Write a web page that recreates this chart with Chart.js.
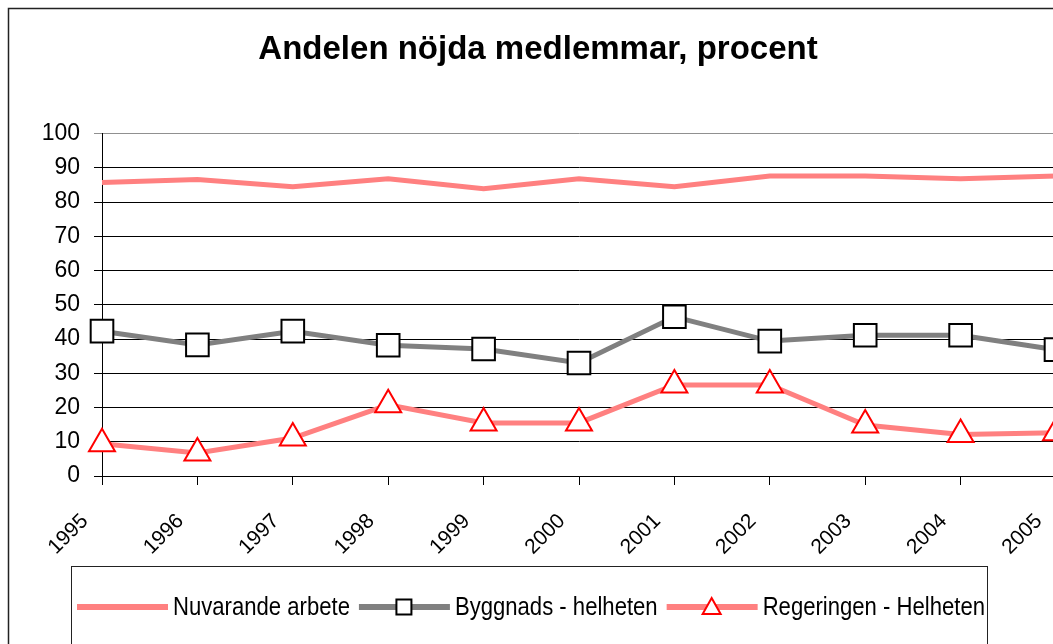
<!DOCTYPE html>
<html>
<head>
<meta charset="utf-8">
<script src="https://cdn.jsdelivr.net/npm/chart.js"></script>
<style>
  html, body { margin: 0; padding: 0; background: #fff; overflow: hidden; }
  #wrap { position: relative; width: 1053px; height: 644px; overflow: hidden; }
  #chart { position: absolute; left: 0; top: 0; }
</style>
</head>
<body>
<div id="wrap"><canvas id="chart" width="1098" height="700"></canvas></div>
<script>
// Andelen nöjda medlemmar, procent
const years = ['1995', '1996', '1997', '1998', '1999', '2000', '2001', '2002', '2003', '2004', '2005'];
const seriesNames = ['Nuvarande arbete', 'Byggnads - helheten', 'Regeringen - Helheten'];
const nuvarande = [85.7, 86.6, 84.5, 86.8, 83.9, 86.8, 84.5, 87.6, 87.6, 86.8, 87.6];
const byggnads = [42.3, 38.3, 42.3, 38.2, 37.1, 33.0, 46.5, 39.4, 41.1, 41.1, 36.9];
const regeringen = [9.4, 6.7, 11.1, 20.8, 15.5, 15.5, 26.6, 26.6, 14.9, 12.1, 12.6];
const yTicks = [0, 10, 20, 30, 40, 50, 60, 70, 80, 90, 100];

const FONT = "'Liberation Sans', Arial, sans-serif";

// ram runt hela diagrammet
const frame = {
  id: 'frame',
  beforeDraw(chart) {
    const ctx = chart.ctx;
    ctx.save();
    ctx.strokeStyle = '#222';
    ctx.lineWidth = 1.5;
    ctx.strokeRect(8.5, 8.5, chart.width + 20, chart.height + 20);
    ctx.restore();
  }
};

// förklaring med linje + markör, ritad som i originalet (smal text)
const legendBox = {
  id: 'legendBox',
  afterDraw(chart) {
    const ctx = chart.ctx;
    const top = chart.chartArea.bottom + 90;
    const squeeze = 0.85;
    ctx.save();
    ctx.strokeStyle = '#222';
    ctx.lineWidth = 1;
    ctx.strokeRect(71.5, top + 0.5, 916, 200);
    ctx.font = '26px ' + FONT;
    ctx.textBaseline = 'middle';
    const y = top + 41;
    let x = 77;
    chart.data.datasets.forEach(ds => {
      ctx.strokeStyle = ds.borderColor;
      ctx.lineWidth = 6;
      ctx.beginPath();
      ctx.moveTo(x, y);
      ctx.lineTo(x + 91, y);
      ctx.stroke();
      if (ds.pointRadius > 0) {
        const cx = x + 45;
        ctx.fillStyle = '#fff';
        ctx.strokeStyle = ds.pointBorderColor;
        ctx.lineWidth = 2;
        ctx.beginPath();
        if (ds.pointStyle === 'rect') {
          ctx.rect(cx - 7.5, y - 7.5, 15, 15);
        } else {
          ctx.moveTo(cx, y - 9);
          ctx.lineTo(cx + 9, y + 7);
          ctx.lineTo(cx - 9, y + 7);
          ctx.closePath();
        }
        ctx.fill();
        ctx.stroke();
      }
      ctx.fillStyle = '#000';
      const tx = x + 96;
      ctx.save();
      ctx.translate(tx, y);
      ctx.scale(squeeze, 1);
      ctx.fillText(ds.label, 0, 1);
      ctx.restore();
      x = tx + ctx.measureText(ds.label).width * squeeze + 9;
    });
    ctx.restore();
  }
};

new Chart(document.getElementById('chart'), {
  type: 'line',
  data: {
    labels: years,
    datasets: [
      {
        label: seriesNames[0],
        data: nuvarande,
        borderColor: '#FF8080',
        borderWidth: 5,
        pointRadius: 0,
        tension: 0,
        clip: false
      },
      {
        label: seriesNames[1],
        data: byggnads,
        borderColor: '#808080',
        borderWidth: 5,
        pointStyle: 'rect',
        pointRadius: 16,
        pointBorderWidth: 2,
        pointBorderColor: '#000',
        pointBackgroundColor: '#fff',
        tension: 0,
        clip: false
      },
      {
        label: seriesNames[2],
        data: regeringen,
        borderColor: '#FF8080',
        borderWidth: 5,
        pointStyle: 'triangle',
        pointRadius: 15,
        pointBorderWidth: 2,
        pointBorderColor: '#FF0000',
        pointBackgroundColor: '#fff',
        tension: 0,
        clip: false
      }
    ]
  },
  options: {
    responsive: false,
    animation: false,
    layout: { padding: { left: 20, right: 42, top: 0, bottom: 134 } },
    plugins: {
      legend: { display: false },
      tooltip: { enabled: false },
      title: {
        display: true,
        text: 'Andelen nöjda medlemmar, procent',
        color: '#000',
        font: { family: FONT, size: 33, weight: 'bold', lineHeight: 1.2 },
        padding: { top: 30, bottom: 64 }
      }
    },
    scales: {
      x: {
        offset: false,
        afterFit(scale) { scale.height = 90; },
        grid: { display: true, drawOnChartArea: false, drawTicks: true, tickLength: 9, color: '#000', lineWidth: 1 },
        border: { display: true, color: '#000', width: 1 },
        ticks: {
          autoSkip: false,
          minRotation: 45,
          maxRotation: 45,
          padding: 24,
          labelOffset: -17,
          color: '#000',
          font: { family: FONT, size: 21 }
        }
      },
      y: {
        min: 0,
        max: 100,
        afterFit(scale) { scale.width = 82; },
        afterBuildTicks(scale) { scale.ticks = yTicks.map(v => ({ value: v })); },
        grid: {
          color: c => (c.tick && c.tick.value === 100 ? '#909090' : '#000'),
          lineWidth: 1,
          tickLength: 8
        },
        border: { display: true, color: '#000', width: 1 },
        ticks: {
          padding: 14,
          color: '#000',
          font: { family: FONT, size: 23 }
        }
      }
    }
  },
  plugins: [frame, legendBox]
});
</script>
</body>
</html>
